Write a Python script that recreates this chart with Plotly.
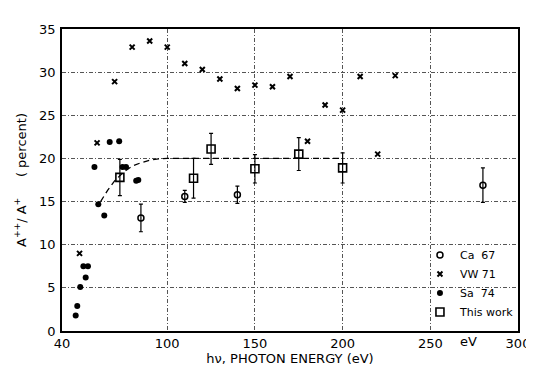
import plotly.graph_objects as go

# Data
vw71_x = [50, 60, 70, 80, 90, 100, 110, 120, 130, 140, 150, 160, 170, 180, 190, 200, 210, 220, 230]
vw71_y = [9.0, 21.8, 28.9, 32.9, 33.6, 32.9, 31.0, 30.3, 29.2, 28.1, 28.5, 28.3, 29.5, 22.0, 26.2, 25.6, 29.5, 20.5, 29.6]

sa74_x = [47.8, 48.7, 50.4, 52.2, 53.5, 54.8, 58.5, 60.7, 64.1, 67.2, 72.6, 74.5, 76.5, 82.3, 83.5]
sa74_y = [1.8, 2.9, 5.1, 7.5, 6.2, 7.5, 19.0, 14.7, 13.4, 21.9, 22.0, 19.0, 19.0, 17.4, 17.5]

ca67_x = [85, 110, 140, 280]
ca67_y = [13.1, 15.6, 15.8, 16.9]
ca67_err = [1.6, 0.7, 1.0, 2.0]

this_x = [73, 115, 125, 150, 175, 200]
this_y = [17.8, 17.7, 21.1, 18.8, 20.5, 18.9]
this_err = [2.1, 2.3, 1.8, 1.65, 1.9, 1.75]

curve_x = [62, 66, 70, 75, 80, 85, 90, 95, 100, 200]
curve_y = [15.0, 16.3, 17.4, 18.4, 19.1, 19.5, 19.8, 19.95, 20.0, 20.0]

x_ticks = [40, 100, 150, 200, 250, 300]
y_ticks = [0, 5, 10, 15, 20, 25, 30, 35]

FONT = "DejaVu Sans"

fig = go.Figure()

fig.add_trace(go.Scatter(
    x=curve_x, y=curve_y, mode="lines", showlegend=False,
    line=dict(color="black", width=1.3, dash="6px,4px"), hoverinfo="skip"))

fig.add_trace(go.Scatter(
    x=ca67_x, y=ca67_y, mode="markers", name="Ca  67",
    marker=dict(symbol="circle-open", size=6, color="black", line=dict(width=1.5)),
    error_y=dict(type="data", array=ca67_err, color="black", thickness=1.2, width=2)))

fig.add_trace(go.Scatter(
    x=vw71_x, y=vw71_y, mode="markers", name="VW 71",
    marker=dict(symbol="x-thin-open", size=5, color="black", line=dict(width=2, color="black"))))

fig.add_trace(go.Scatter(
    x=sa74_x, y=sa74_y, mode="markers", name="Sa  74",
    marker=dict(symbol="circle", size=6, color="black")))

fig.add_trace(go.Scatter(
    x=this_x, y=this_y, mode="markers", name="This work",
    marker=dict(symbol="square-open", size=8, color="black", line=dict(width=1.6)),
    error_y=dict(type="data", array=this_err, color="black", thickness=1.2, width=2)))

axis_common = dict(
    showline=True, linecolor="black", linewidth=1.5, mirror=True,
    showgrid=True, gridcolor="#555", gridwidth=0.9, griddash="4px,2px,1px,2px",
    zeroline=False, ticks="",
    tickfont=dict(family=FONT, size=13, color="black"),
)

fig.update_xaxes(
    range=[40, 300], tickvals=x_ticks, ticktext=[str(v) for v in x_ticks],
    title=dict(text="hν, PHOTON ENERGY (eV)", font=dict(family=FONT, size=13, color="black"), standoff=4),
    **axis_common)
fig.update_yaxes(
    range=[0, 35], tickvals=y_ticks, ticktext=[str(v) for v in y_ticks],
    ticklabelstandoff=2,
    title=dict(text="A<sup>++</sup>/ A<sup>+</sup>     ( percent)", font=dict(family=FONT, size=13, color="black"), standoff=10),
    **axis_common)

fig.add_annotation(x=272, y=0, xref="x", yref="paper", yanchor="top", yshift=-1,
                   text="eV", showarrow=False, font=dict(family=FONT, size=13, color="black"))

fig.update_layout(
    width=534, height=368,
    margin=dict(l=54, r=14, t=21, b=36),
    paper_bgcolor="white", plot_bgcolor="white",
    font=dict(family=FONT, color="black"),
    legend=dict(x=0.785, y=0.015, xanchor="left", yanchor="bottom",
                bgcolor="rgba(0,0,0,0)", borderwidth=0,
                font=dict(family=FONT, size=11, color="black"),
                itemsizing="trace", itemwidth=30, tracegroupgap=0),
)

fig.write_html("out.html")
